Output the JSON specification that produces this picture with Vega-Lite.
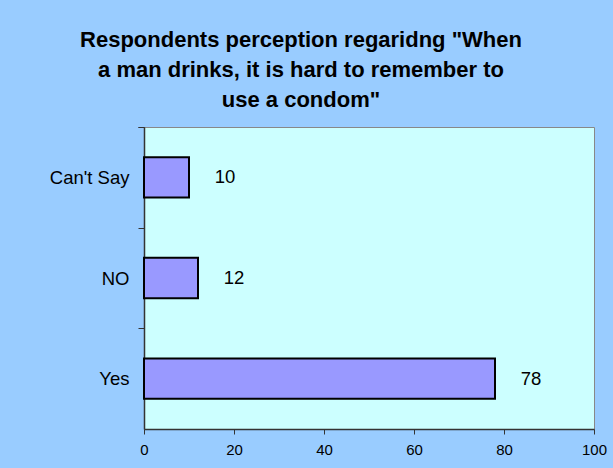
{
  "$schema": "https://vega.github.io/schema/vega-lite/v6.json",
  "width": 450,
  "height": 302,
  "autosize": {"type": "none"},
  "padding": {"left": 144, "top": 127, "right": 19, "bottom": 39},
  "background": "#99CCFF",
  "title": {
    "text": ["Respondents perception regaridng \"When", "a man drinks, it is hard to remember to", "use a condom\""],
    "font": "Liberation Sans",
    "fontSize": 22,
    "fontWeight": "bold",
    "color": "#000000",
    "lineHeight": 30,
    "anchor": "middle",
    "frame": "group",
    "dx": -68,
    "offset": 6
  },
  "config": {
    "view": {"fill": "#CCFFFF", "stroke": "#888888", "strokeWidth": 1},
    "font": "Liberation Sans"
  },
  "data": {
    "values": [
      {"response": "Can't Say", "percent": 10},
      {"response": "NO", "percent": 12},
      {"response": "Yes", "percent": 78}
    ]
  },
  "encoding": {
    "y": {
      "field": "response",
      "type": "nominal",
      "sort": ["Can't Say", "NO", "Yes"],
      "scale": {"paddingInner": 0.6, "paddingOuter": 0.3},
      "axis": {
        "title": null,
        "bandPosition": 0,
        "tickOffset": -30.2,
        "labelOffset": 30.2,
        "tickExtra": true,
        "tickSize": 6,
        "tickColor": "#333333",
        "domainColor": "#333333",
        "domainWidth": 1.5,
        "labelFont": "Liberation Sans",
        "labelFontSize": 18.5,
        "labelColor": "#000000",
        "labelPadding": 9
      }
    },
    "x": {
      "field": "percent",
      "type": "quantitative",
      "scale": {"domain": [0, 100], "nice": false},
      "axis": {
        "title": null,
        "values": [0, 20, 40, 60, 80, 100],
        "grid": false,
        "tickSize": 5,
        "tickColor": "#333333",
        "domainColor": "#333333",
        "domainWidth": 1.5,
        "labelFont": "Liberation Sans",
        "labelFontSize": 15,
        "labelColor": "#000000",
        "labelPadding": 8,
        "labelFlush": false
      }
    }
  },
  "layer": [
    {
      "mark": {"type": "bar", "fill": "#9999FF", "stroke": "#000000", "strokeWidth": 2}
    },
    {
      "mark": {"type": "text", "align": "center", "baseline": "middle", "dx": 36, "fontSize": 18.5, "font": "Liberation Sans", "color": "#000000"},
      "encoding": {"text": {"field": "percent", "type": "quantitative"}}
    }
  ]
}
